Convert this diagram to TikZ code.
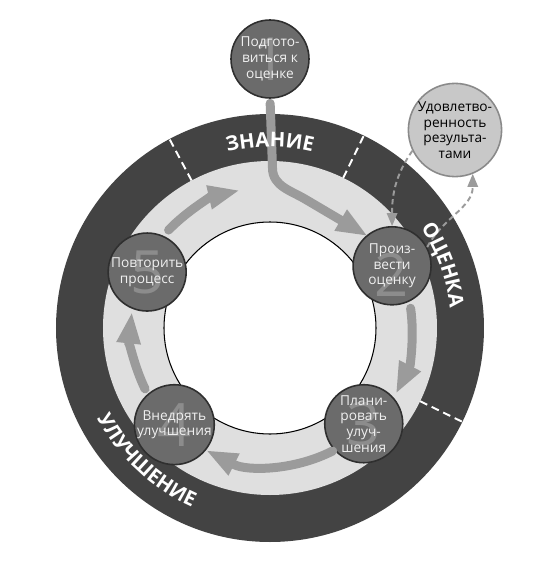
\documentclass[tikz,border=0pt]{standalone}
\usepackage{fontspec}
\setmainfont{Open Sans}
\usetikzlibrary{arrows.meta,decorations.text}
\definecolor{ringdark}{HTML}{434343}
\definecolor{ringlight}{HTML}{DFDFDF}
\definecolor{stepfill}{HTML}{6B6B6B}
\definecolor{stepline}{HTML}{2F2F2F}
\definecolor{numgray}{HTML}{8C8C8C}
\definecolor{flowgray}{HTML}{9B9B9B}
\definecolor{goalfill}{HTML}{C8C8C8}
\definecolor{goalline}{HTML}{8A8A8A}
\def\ringfont{\bfseries\fontsize{11.5}{12}\selectfont}
\def\ringtext(#1:#2:#3)#4{\path[decorate,decoration={text along path,text align=center,text color=white,text={|\ringfont|#4}}] (#1:#3) arc (#1:#2:#3);}
\tikzset{
	stepcircle/.style 2 args={circle, draw=stepline, line width=0.9pt, fill=stepfill,
		minimum size=1.56cm, inner sep=0pt, align=center, text=white!94!black,
		font=\fontsize{7.8}{8.9}\selectfont,
		path picture={\node[text=numgray, font=\fontsize{34}{34}\selectfont] at ([yshift=#2]path picture bounding box.center) {#1};}},
	goalcircle/.style={circle, draw=goalline, line width=0.9pt, fill=goalfill,
		minimum size=1.76cm, inner sep=0pt, align=center, font=\fontsize{7.8}{8.9}\selectfont},
	flow/.style={draw=flowgray, line width=0.18cm, line cap=round,
		-{Triangle[width=0.5cm,length=0.6cm,line width=0pt]}},
	feedback/.style={draw=flowgray, line width=1.1pt, dash pattern=on 3pt off 2pt,
		-{Triangle[width=0.22cm,length=0.26cm,line width=0pt]}},
	sectorline/.style={white, line width=1.1pt, dash pattern=on 4.5pt off 2.8pt}
}
\begin{document}
\begin{tikzpicture}
		%%%%% RING %%%%%
		\useasboundingbox (-5.4,-4.66) rectangle (5.8,6.56);
		
		\fill[ringdark] (0,0) circle (4.28);
		\fill[ringlight] (0,0) circle (3.34);
		\draw[fill=white, line width=0.6pt] (0,0) circle (2.12);
		\foreach \a in {118,64,-26}
			\draw[sectorline] (\a:3.34) -- (\a:4.28);
		
		%%%%% STEPS %%%%%
		\node[stepcircle={1}{0pt}] (prep) at (0,5.38) {Подгото-\\виться к\\оценке};
		\node[stepcircle={2}{-0.18cm}] (assess) at (27:2.74) {Произ-\\вести\\оценку};
		\node[stepcircle={3}{0pt}] (plan) at (-45.6:2.68) {Плани-\\ровать\\улуч-\\шения};
		\node[stepcircle={4}{0pt}] (apply) at (-134.7:2.72) {Внедрять\\улучшения};
		\node[stepcircle={5}{0pt}] (again) at (155.5:2.7) {Повторить\\процесс};
		\node[goalcircle] (result) at (3.7,3.96) {Удовлетво-\\ренность\\результа-\\тами};
		
		%%%%% ARROWS %%%%%
		\draw[flow, shorten <=0.09cm] (prep.south) -- (0.05,3.2) to[out=-90,in=148] (0.75,2.55) -- (assess.130);
		\draw[flow] (136:2.82) arc[start angle=136, end angle=103, radius=2.82];
		\draw[flow] (8:2.84) arc[start angle=8, end angle=-27, radius=2.84];
		\draw[flow] (-63:2.76) arc[start angle=-63, end angle=-117, radius=2.76];
		\draw[flow] (-154:2.78) arc[start angle=-154, end angle=-186, radius=2.78];
		
		\draw[feedback] (result.206) to[out=235,in=90] (assess.north);
		\draw[feedback] (assess.28) to[out=62,in=-90] (result.-68);
		
		%%%%% SECTORS %%%%%
		\ringtext(118:62:3.62){ЗНАНИЕ}
		\ringtext(52:-12:3.62){ОЦЕНКА}
		\ringtext(-178:-88:3.9){УЛУЧШЕНИЕ}
	\end{tikzpicture}
\end{document}
